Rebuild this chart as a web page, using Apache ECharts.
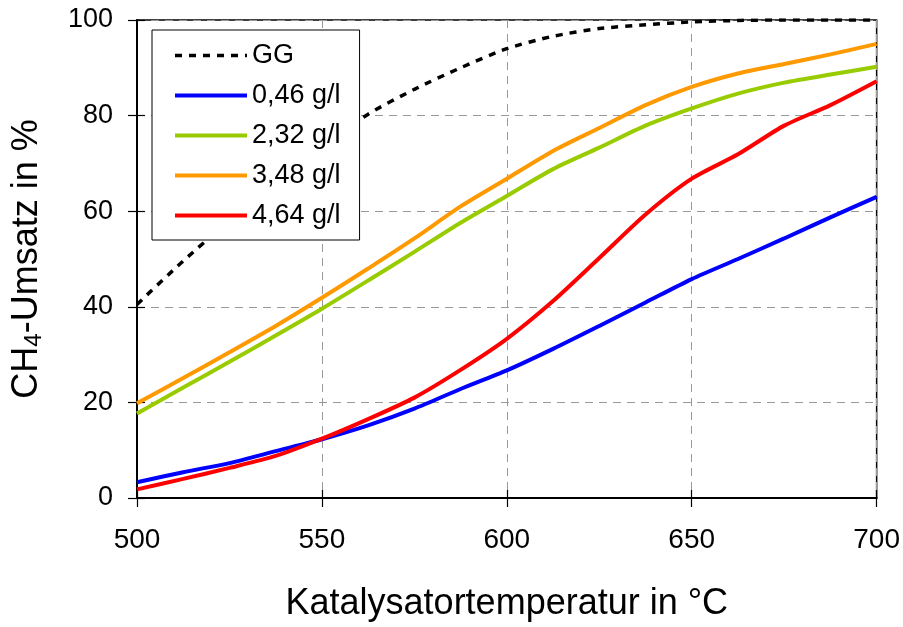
<!DOCTYPE html>
<html>
<head>
<meta charset="utf-8">
<script src="https://cdn.jsdelivr.net/npm/echarts@6/dist/echarts.min.js"></script>
<style>
  html, body { margin: 0; padding: 0; background: #fff; }
  #main { width: 903px; height: 627px; }
</style>
</head>
<body>
<div id="main"></div>
<script>
// Katalysatortemperatur in °C
var temps = [500, 512.5, 525, 537.5, 550, 562.5, 575, 587.5, 600, 612.5, 625, 637.5, 650, 662.5, 675, 687.5, 700];
// CH4-Umsatz in %
var gg    = [40.5, 49.6, 58, 66, 73.5, 80.3, 85.5, 90, 94, 96.6, 98.2, 99, 99.6, 99.9, 100, 100, 100];
var s046  = [3.3, 5.4, 7.3, 9.8, 12.3, 15.2, 18.7, 22.8, 26.7, 31.2, 36, 40.9, 45.8, 50, 54.3, 58.7, 63];
var s232  = [17.7, 23.1, 28.5, 34, 39.6, 45.5, 51.5, 57.6, 63.2, 68.8, 73.3, 77.9, 81.5, 84.6, 86.9, 88.6, 90.2];
var s348  = [19.8, 25.1, 30.5, 36, 41.9, 48, 54.3, 61, 66.8, 72.6, 77.4, 82.2, 86, 88.8, 90.8, 92.8, 95];
var s464  = [1.8, 4, 6.3, 8.8, 12.4, 16.5, 21, 26.8, 33.3, 41.2, 50.2, 59.3, 66.8, 71.9, 77.9, 82.2, 87.2];
var names = ['GG', '0,46 g/l', '2,32 g/l', '3,48 g/l', '4,64 g/l'];
var xTicks = [500, 550, 600, 650, 700];
var yTicks = [0, 20, 40, 60, 80, 100];

function pairs(ys) {
    return temps.map(function (t, i) { return [t, ys[i]]; });
}

var myChart = echarts.init(document.getElementById('main'));
var font = 'Liberation Sans, Arial, sans-serif';

function line(name, ys, color, type, width) {
    return {
        name: name,
        type: 'line',
        data: pairs(ys),
        showSymbol: false,
        symbol: 'none',
        smooth: 0.25,
        z: name === 'GG' ? 1 : 2,
        lineStyle: { color: color, width: width, type: type },
        itemStyle: { color: color }
    };
}

// inner tick marks (ticks cross the axis lines in the original)
var innerTick = { show: true, inside: true, length: 8, lineStyle: { color: '#000', width: 1.2 } };

var option = {
    backgroundColor: '#fff',
    animation: false,
    textStyle: { fontFamily: font },
    grid: {
        left: 137, top: 20, right: 26, bottom: 125,
        show: true, borderColor: '#000', borderWidth: 1.5, backgroundColor: 'transparent'
    },
    legend: {
        left: 152, top: 30,
        orient: 'vertical',
        data: names.map(function (n, i) {
            return { name: n, lineStyle: { width: i === 0 ? 3.5 : 4 } };
        }),
        itemWidth: 72, itemHeight: 22, itemGap: 13,
        padding: [12, 19, 11, 21],
        backgroundColor: '#fff',
        borderColor: '#000', borderWidth: 1,
        borderRadius: 0,
        itemStyle: { opacity: 0 },
        textStyle: { fontSize: 27, lineHeight: 27, color: '#000', fontFamily: font }
    },
    xAxis: [{
        type: 'value', min: 500, max: 700, interval: 50,
        name: 'Katalysatortemperatur in °C',
        nameLocation: 'middle', nameGap: 88,
        nameTextStyle: { fontSize: 36, color: '#000', fontFamily: font },
        axisLine: { lineStyle: { color: '#000', width: 2 } },
        axisTick: { show: true, length: 9, lineStyle: { color: '#000', width: 1.2 } },
        axisLabel: { fontSize: 28, color: '#000', margin: 28, fontFamily: font,
            formatter: function (v) { return xTicks.indexOf(v) >= 0 ? v : ''; } },
        splitLine: { show: true, lineStyle: { color: '#999', type: [8, 6], width: 1 } }
    }, {
        type: 'value', min: 500, max: 700, interval: 50, position: 'bottom',
        axisLine: { show: false }, axisLabel: { show: false }, splitLine: { show: false },
        axisTick: innerTick
    }],
    yAxis: [{
        type: 'value', min: 0, max: 100, interval: 20,
        name: '{a|CH}{s|4}{a|-Umsatz in %}',
        nameLocation: 'middle', nameGap: 91, nameRotate: 90,
        nameTextStyle: {
            color: '#000',
            rich: {
                a: { fontSize: 36, fontFamily: font, color: '#000' },
                s: { fontSize: 24, fontFamily: font, color: '#000', verticalAlign: 'bottom', padding: [14, 0, 0, 0] }
            }
        },
        axisLine: { show: true, lineStyle: { color: '#000', width: 2 } },
        axisTick: { show: true, length: 9, lineStyle: { color: '#000', width: 1.2 } },
        axisLabel: { fontSize: 27, color: '#000', margin: 24, fontFamily: font,
            formatter: function (v) { return yTicks.indexOf(v) >= 0 ? v : ''; } },
        splitLine: { show: true, lineStyle: { color: '#999', type: [8, 6], width: 1 } }
    }, {
        type: 'value', min: 0, max: 100, interval: 20, position: 'left',
        axisLine: { show: false }, axisLabel: { show: false }, splitLine: { show: false },
        axisTick: innerTick
    }],
    series: [
        line(names[0], gg, '#000', [7, 7], 3.5),
        line(names[1], s046, '#0000ff', 'solid', 4),
        line(names[2], s232, '#99cc00', 'solid', 4),
        line(names[3], s348, '#ff9900', 'solid', 4),
        line(names[4], s464, '#ff0000', 'solid', 4)
    ]
};

if (option && typeof option === 'object') {
    myChart.setOption(option, true);
}
</script>
</body>
</html>
